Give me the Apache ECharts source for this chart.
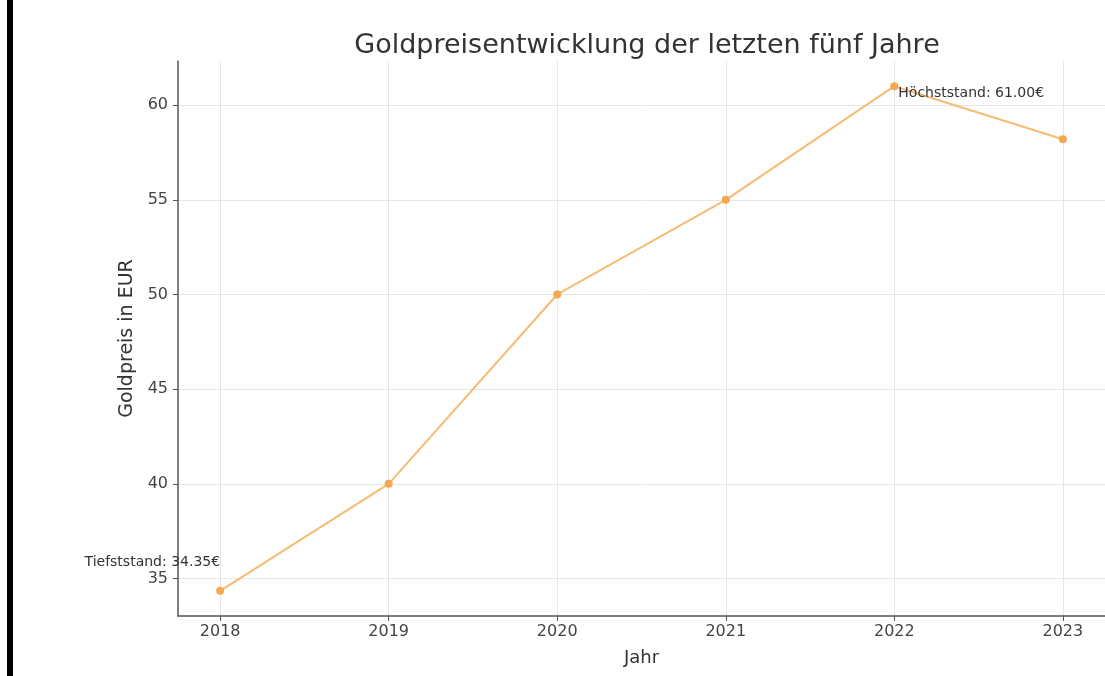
<!DOCTYPE html>
<html>
<head>
<meta charset="utf-8">
<script src="https://cdn.jsdelivr.net/npm/echarts@6/dist/echarts.min.js"></script>
<style>
  html, body { margin: 0; padding: 0; background: #fff; }
  #main { position: absolute; left: 0; top: 0; width: 1105px; height: 676px; }
  .edge { position: absolute; left: 7px; top: 0; width: 6px; height: 676px; background: #000; }
</style>
</head>
<body>
<div id="main"></div>
<div class="edge"></div>
<script>
const years = [2018, 2019, 2020, 2021, 2022, 2023];
const prices = [34.35, 40, 50, 55, 61, 58.2];
const yTicks = [35, 40, 45, 50, 55, 60];
const lowLabel = 'Tiefststand: 34.35€';
const highLabel = 'Höchststand: 61.00€';

const chartDom = document.getElementById('main');
const myChart = echarts.init(chartDom);

const font = 'DejaVu Sans';
const orange = '#f3a94f';

const points = years.map((y, i) => {
  const item = { value: [y, prices[i]] };
  if (i === 0) {
    item.label = {
      show: true, position: 'inside', align: 'right', verticalAlign: 'middle',
      offset: [0, -28], formatter: lowLabel
    };
  }
  if (i === 4) {
    item.label = {
      show: true, position: 'inside', align: 'left', verticalAlign: 'middle',
      offset: [4, 7], formatter: highLabel
    };
  }
  return item;
});

const option = {
  animation: false,
  backgroundColor: '#fff',
  title: {
    text: 'Goldpreisentwicklung der letzten fünf Jahre',
    left: 642, top: 27, textAlign: 'center',
    textStyle: { fontFamily: font, fontSize: 27, fontWeight: 'normal', color: '#333' }
  },
  grid: { left: 178, right: 0, top: 61, bottom: 60 },
  xAxis: {
    type: 'value',
    min: 2017.75, max: 2023.25,
    name: 'Jahr', nameLocation: 'middle', nameGap: 33,
    nameTextStyle: { fontFamily: font, fontSize: 18, color: '#333' },
    axisLine: { show: true, lineStyle: { color: '#555', width: 1.5 } },
    axisTick: { show: true, customValues: years, length: 5, lineStyle: { color: '#555' } },
    axisLabel: {
      customValues: years, fontFamily: font, fontSize: 16, color: '#444', margin: 8,
      formatter: v => String(v)
    },
    splitLine: { show: true, lineStyle: { color: '#e6e6e6', width: 1 } }
  },
  yAxis: {
    type: 'value',
    min: 33.02, max: 62.33,
    name: 'Goldpreis in EUR', nameLocation: 'middle', nameGap: 39, nameRotate: 90,
    nameTextStyle: { fontFamily: font, fontSize: 19, color: '#333' },
    axisLine: { show: true, lineStyle: { color: '#555', width: 1.5 } },
    axisTick: { show: true, customValues: yTicks, length: 5, lineStyle: { color: '#555' } },
    axisLabel: {
      customValues: yTicks, fontFamily: font, fontSize: 16, color: '#444', margin: 10,
      formatter: v => String(v)
    },
    splitLine: { show: true, lineStyle: { color: '#e6e6e6', width: 1 } }
  },
  series: [
    {
      type: 'line',
      data: points,
      symbol: 'circle',
      symbolSize: 8,
      lineStyle: { color: '#f5bd72', width: 2 },
      itemStyle: { color: orange },
      label: { fontFamily: font, fontSize: 14, color: '#333' }
    }
  ]
};

myChart.setOption(option);
</script>
</body>
</html>
